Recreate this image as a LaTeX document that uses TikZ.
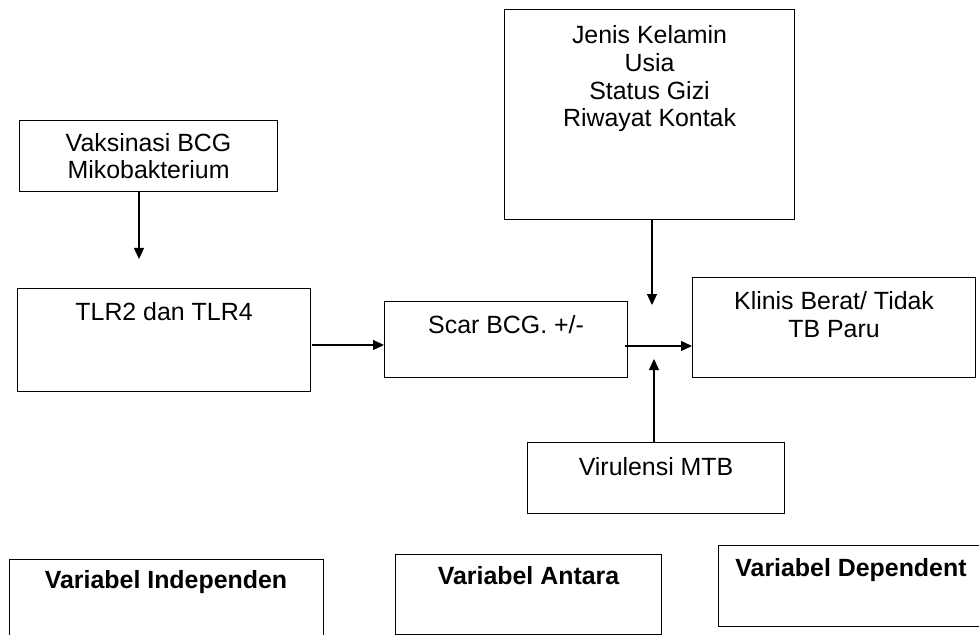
\documentclass[tikz,border=0pt]{standalone}
\usepackage{fontspec}
\setmainfont{Liberation Sans}
\usetikzlibrary{arrows.meta,calc}
\begin{document}
\begin{tikzpicture}[x=1bp,y=-1bp,
  box/.style={draw=black,line width=1.1bp,inner sep=0pt,anchor=north west},
  lbl/.style={font=\fontsize{25}{28}\selectfont,align=center,anchor=base,inner sep=0pt},
  blbl/.style={lbl,font=\fontsize{25}{28}\selectfont\bfseries},
  arr/.style={draw=black,line width=1.1bp,-{Triangle[length=11bp,width=10bp]}}]
\useasboundingbox (0,0) rectangle (979,635);
\clip (0,0) rectangle (979,635);

% boxes
\node[box,minimum width=258bp,minimum height=71bp]  (vak)    at (19,120) {};
\node[box,minimum width=293bp,minimum height=103bp] (tlr)    at (17,288) {};
\node[box,minimum width=243bp,minimum height=76bp]  (scar)   at (384,301) {};
\node[box,minimum width=283bp,minimum height=100bp] (klinis) at (692,277) {};
\node[box,minimum width=290bp,minimum height=210bp] (jenis)  at (504,9) {};
\node[box,minimum width=257bp,minimum height=71bp]  (vir)    at (527,442) {};
\node[box,minimum width=314bp,minimum height=100bp] (ind)    at (9,559) {};
\node[box,minimum width=266bp,minimum height=80bp]  (ant)    at (395,554) {};
\node[box,minimum width=290bp,minimum height=81bp]  (dep)    at (718,545) {};

% texts (base anchor = baseline of the last line)
\node[lbl] (vakt)    at ($(vak.north)+(0,59)$)    {Vaksinasi BCG\\Mikobakterium};
\node[lbl] (tlrt)    at ($(tlr.north)+(0,32)$)    {TLR2 dan TLR4};
\node[lbl] (scart)   at ($(scar.north)+(0,32)$)   {Scar BCG. +/-};
\node[lbl] (klinist) at ($(klinis.north)+(0,60)$) {Klinis Berat/ Tidak\\TB Paru};
\node[lbl] (jenist)  at ($(jenis.north)+(0,118)$) {Jenis Kelamin\\Usia\\Status Gizi\\Riwayat Kontak};
\node[lbl] (virt)    at ($(vir.north)+(0,33)$)    {Virulensi MTB};
\node[blbl] (indt)   at ($(ind.north west)+(157,29)$) {Variabel Independen};
\node[blbl] (antt)   at ($(ant.north)+(0,30)$)    {Variabel Antara};
\node[blbl] (dept)   at ($(dep.north west)+(133,31)$) {Variabel Dependent};

% connectors
\coordinate (tipA) at (139,259);
\draw[arr] (vak.south -| tipA) -- (tipA);
\coordinate (startB) at (312,345);
\draw[arr] (startB) -- (scar.west |- startB);
\coordinate (startC) at (625,346);
\draw[arr] (startC) -- (klinis.west |- startC);
\coordinate (tipD) at (652,305);
\draw[arr] (jenis.south -| tipD) -- (tipD);
\coordinate (tipE) at (654,359);
\draw[arr] (vir.north -| tipE) -- (tipE);
\end{tikzpicture}
\end{document}
